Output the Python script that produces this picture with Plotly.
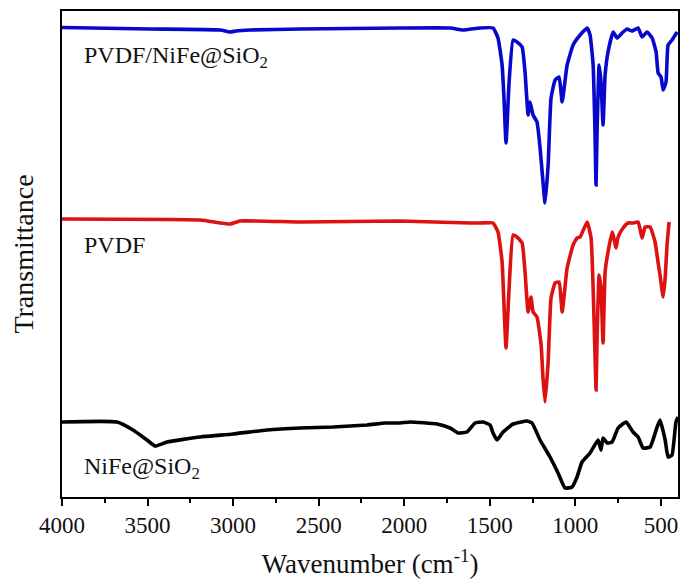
import plotly.graph_objects as go

# Wavenumbers (cm^-1) and transmittance (a.u., offset spectra)
blue_w = [4000, 3486, 3077, 3018, 2983, 2901, 2609, 2024, 1732, 1656, 1557, 1481, 1452, 1428, 1417, 1405,
          1387, 1364, 1341, 1311, 1294, 1276, 1265, 1247, 1224, 1206, 1189, 1177, 1159, 1142, 1118, 1095,
          1077, 1048, 1013, 972, 931, 914, 896, 885, 879, 873, 861, 850, 838, 826, 809, 779, 756, 727,
          698, 668, 633, 610, 581, 551, 528, 516, 499, 487, 470, 458, 435, 405]
blue_t = [469.5, 468, 467, 465, 466, 467, 468, 469, 469, 467, 469, 469, 459, 432, 399, 354,
          415, 457, 455, 450, 425, 382, 395, 382, 375, 349, 315, 294, 332, 399, 417, 420,
          395, 432, 452, 462, 469, 462, 432, 365, 312, 365, 432, 415, 372, 422, 445, 465, 459, 464,
          468, 466, 469, 460, 465, 459, 445, 424, 420, 407, 415, 452, 457, 465]

red_w = [4000, 3193, 3018, 2960, 2609, 2024, 1615, 1557, 1481, 1452, 1428, 1417, 1405, 1387, 1364, 1341,
         1311, 1294, 1276, 1259, 1247, 1224, 1200, 1189, 1177, 1159, 1142, 1118, 1095, 1077, 1048, 1013,
         990, 972, 931, 908, 896, 885, 879, 873, 861, 850, 838, 826, 809, 785, 779, 762, 750, 721,
         692, 663, 633, 610, 592, 563, 534, 516, 505, 487, 475, 464, 452]
red_t = [278, 277, 273, 276, 275, 276, 274, 274, 274, 265, 235, 192, 149, 209, 262, 260,
         254, 225, 185, 200, 185, 180, 152, 119, 95, 135, 199, 214, 215, 185, 229, 252,
         259, 260, 275, 259, 209, 142, 107, 159, 222, 209, 154, 225, 245, 265, 262, 249, 260, 269,
         274, 274, 275, 259, 270, 270, 255, 234, 222, 200, 219, 252, 275]

black_w = [4000, 3679, 3585, 3503, 3456, 3386, 3193, 3000, 2802, 2609, 2416, 2217, 2112, 2024, 1966, 1808,
           1732, 1685, 1633, 1586, 1539, 1498, 1481, 1457, 1422, 1364, 1282, 1253, 1206, 1148, 1101, 1060,
           1019, 990, 961, 914, 867, 850, 838, 814, 785, 750, 703, 663, 633, 604, 563, 522, 505, 475,
           458, 435, 412, 400]
black_t = [75, 75, 67, 57, 51, 55, 60, 63, 67, 69, 70, 72, 74, 74, 75, 73,
           69, 64, 65, 74, 75, 72, 64, 57, 65, 73, 76, 74, 57, 40, 24, 9,
           10, 20, 35, 44, 57, 47, 59, 54, 55, 69, 75, 65, 60, 49, 50, 70, 77, 57,
           40, 42, 75, 80]

labels = ["PVDF/NiFe@SiO<sub>2</sub>", "PVDF", "NiFe@SiO<sub>2</sub>"]
label_pos = [(3883, 440), (3883, 252), (3883, 29)]

x_ticks = [4000, 3500, 3000, 2500, 2000, 1500, 1000, 500]

FONT = "Liberation Serif, Times New Roman, serif"

fig = go.Figure()
for w, t, c in [(blue_w, blue_t, "#0808cc"), (red_w, red_t, "#dd1111"), (black_w, black_t, "#000000")]:
    fig.add_trace(go.Scatter(x=w, y=t, mode="lines", line=dict(color=c, width=3.6, shape="spline", smoothing=0.4),
                             showlegend=False, hoverinfo="skip"))

for txt, (x, y) in zip(labels, label_pos):
    fig.add_annotation(x=x, y=y, text=txt, showarrow=False, xanchor="left", yanchor="middle",
                       font=dict(family=FONT, size=24, color="#111111"))

fig.update_layout(
    width=681, height=583,
    margin=dict(l=62, r=3, t=11, b=86),
    paper_bgcolor="white", plot_bgcolor="white",
    font=dict(family=FONT, size=24, color="#111111"),
)
fig.update_xaxes(
    range=[4000, 400], tickvals=x_ticks, ticktext=[str(v) for v in x_ticks],
    ticks="outside", ticklen=7, tickwidth=1.5, tickcolor="black",
    minor=dict(tickvals=[3750, 3250, 2750, 2250, 1750, 1250, 750], ticks="outside", ticklen=4,
               tickwidth=1.5, tickcolor="black", showgrid=False),
    showline=True, linecolor="black", linewidth=1.5, mirror=True, showgrid=False, zeroline=False,
    title=dict(text="Wavenumber (cm<sup>-1</sup>)", standoff=17, font=dict(size=27)),
    tickfont=dict(size=23), automargin=False,
)
fig.update_yaxes(
    range=[0, 486], showticklabels=False, ticks="",
    showline=True, linecolor="black", linewidth=1.5, mirror=True, showgrid=False, zeroline=False,
    title=dict(text="Transmittance", standoff=18, font=dict(size=28)), automargin=False,
)

fig.write_html("out.html", config={"displayModeBar": False},
               post_script="document.body.style.margin='0';document.body.style.overflow='hidden';")
